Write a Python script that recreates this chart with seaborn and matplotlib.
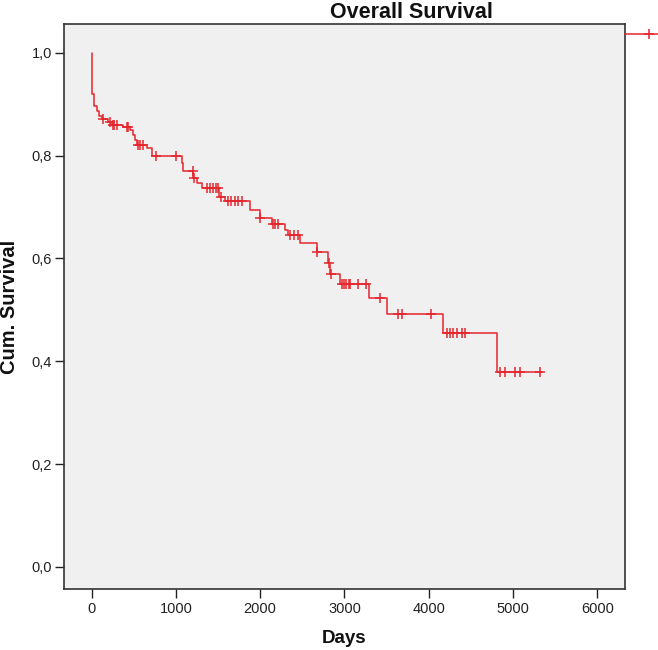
import matplotlib
matplotlib.use('Agg')
import matplotlib.pyplot as plt
import seaborn as sns
import numpy as np
from matplotlib.lines import Line2D
from matplotlib.ticker import FuncFormatter

# ---- data ----
step_days = [0, 5, 10, 27, 66, 83, 120, 200, 240, 370, 454, 494, 514, 535, 653, 712,
             1075, 1090, 1206, 1253, 1305, 1514, 1582, 1878, 1997, 2136, 2294, 2333,
             2472, 2670, 2808, 2828, 2946, 3294, 3508, 4172, 4806, 5340]
step_surv = [1.0, 0.955, 0.920, 0.897, 0.887, 0.877, 0.871, 0.866, 0.860, 0.856, 0.849,
             0.840, 0.831, 0.821, 0.815, 0.800, 0.785, 0.770, 0.756, 0.746, 0.737, 0.720,
             0.712, 0.695, 0.678, 0.667, 0.656, 0.646, 0.630, 0.612, 0.591, 0.570, 0.550,
             0.523, 0.492, 0.455, 0.380, 0.380]
censor_days = [130, 217, 249, 270, 297, 415, 430, 549, 575, 609, 763, 1000, 1199, 1215,
               1365, 1400, 1440, 1470, 1502, 1530, 1617, 1650, 1700, 1740, 1780, 1997,
               2151, 2180, 2211, 2353, 2400, 2448, 2677, 2815, 2835, 2967, 3000, 3020,
               3050, 3070, 3160, 3250, 3421, 3638, 3679, 4023, 4213, 4250, 4290, 4330,
               4400, 4430, 4845, 4904, 5023, 5082, 5320]
x_ticks = [0, 1000, 2000, 3000, 4000, 5000, 6000]
y_ticks = [0.0, 0.2, 0.4, 0.6, 0.8, 1.0]
title = "Overall Survival"
x_label = "Days"
y_label = "Cum. Survival"

# survival value at each censoring time (value of the step curve there)
idx = np.searchsorted(step_days, censor_days, side='right') - 1
censor_surv = [step_surv[i] for i in idx]

sns.set_theme(style='ticks')
plt.rcParams['font.family'] = ['Liberation Sans', 'DejaVu Sans']

red = '#E5262D'
fig = plt.figure(figsize=(6.58, 6.5), dpi=100)
ax = fig.add_axes([64 / 658, 1 - 589 / 650, (625 - 64) / 658, (589 - 24) / 650])
ax.set_facecolor('#F0F0F0')

sns.lineplot(x=step_days, y=step_surv, drawstyle='steps-post', color=red, lw=1.1,
             estimator=None, ax=ax)
sns.scatterplot(x=censor_days, y=censor_surv, marker='+', s=45, color=red,
                linewidth=1.1, ax=ax, zorder=3)

ax.set_xlim(-328, 6329)
ax.set_ylim(-0.043, 1.056)
ax.set_xticks(x_ticks)
ax.set_yticks(y_ticks)
ax.yaxis.set_major_formatter(FuncFormatter(lambda v, p: f"{v:.1f}".replace('.', ',')))
ax.xaxis.set_major_formatter(FuncFormatter(lambda v, p: f"{int(v)}"))
ax.tick_params(direction='out', length=6.5, width=1.0, color='#222222',
               labelsize=10.5, labelcolor='#222222', pad=2)
ax.tick_params(axis='x', pad=3)
for s in ax.spines.values():
    s.set_visible(True)
    s.set_color('#333333')
    s.set_linewidth(1.2)

ax.set_xlabel(x_label, fontsize=13.5, fontweight='bold', labelpad=10, color='#111111')
ax.set_ylabel(y_label, fontsize=14.5, fontweight='bold', labelpad=9, color='#111111')

fig.text(411 / 658, 1 - 18 / 650, title, ha='center', va='baseline',
         fontsize=15.5, fontweight='bold', color='#111111')

# legend glyph only (its text lies outside the figure in the reference)
h = Line2D([0], [0], color=red, lw=1.1, marker='+', markersize=7, markeredgewidth=1.1)
ax.legend(handles=[h], labels=[''], loc='upper left',
          bbox_to_anchor=(1.0, 0.993), frameon=False, handlelength=3.5,
          borderaxespad=0, borderpad=0, handletextpad=0.0, numpoints=1, fontsize=10)

fig.savefig('out.png', dpi=100)
